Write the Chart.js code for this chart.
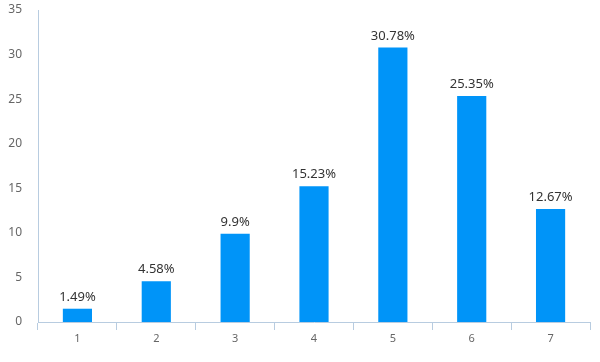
<!DOCTYPE html>
<html><head><meta charset="utf-8">
<script src="https://cdn.jsdelivr.net/npm/chart.js@4/dist/chart.umd.min.js"></script>
<style>html,body{margin:0;padding:0;background:#fff}#wrap{width:600px;height:362px}</style>
</head><body><div id="wrap"><canvas id="c" width="600" height="362"></canvas></div>
<script>
const categories = ['1','2','3','4','5','6','7'];
const values = [1.49, 4.58, 9.9, 15.23, 30.78, 25.35, 12.67];
const labels = ['1.49%','4.58%','9.9%','15.23%','30.78%','25.35%','12.67%'];

const labelPlugin = {
  id: 'barLabels',
  afterDatasetsDraw(chart) {
    const ctx = chart.ctx;
    const meta = chart.getDatasetMeta(0);
    ctx.save();
    ctx.font = '13px "Noto Sans", "DejaVu Sans", sans-serif';
    ctx.fillStyle = '#333';
    ctx.textAlign = 'center';
    ctx.textBaseline = 'bottom';
    meta.data.forEach((el, i) => {
      ctx.fillText(labels[i], el.x, el.y - 5);
    });
    ctx.restore();
  }
};

new Chart(document.getElementById('c'), {
  type: 'bar',
  data: { labels: categories, datasets: [{ data: values, backgroundColor: '#0094F8', categoryPercentage: 1, barPercentage: 0.37 }] },
  options: {
    responsive: false, animation: false,
    layout: { padding: { top: 10, right: 10, left: 0, bottom: 0 } },
    plugins: { legend: { display: false }, tooltip: { enabled: false } },
    scales: {
      x: {
        grid: { display: true, drawOnChartArea: false, drawTicks: true, tickLength: 8, color: '#B8CCE0', tickColor: '#B8CCE0', offset: true },
        border: { display: true, color: '#B8CCE0' },
        ticks: { color: '#666', font: { size: 11, family: '"Noto Sans", sans-serif' }, padding: 2 },
        afterFit(s) { s.height = 40; }
      },
      y: {
        min: 0, max: 35,
        grid: { display: false },
        border: { display: true, color: '#B8CCE0' },
        ticks: { stepSize: 5, color: '#666', font: { size: 12, family: '"Noto Sans", sans-serif' }, padding: 8 },
        afterFit(s) { s.width = 38; s.paddingTop = 0; s.paddingBottom = 0; }
      }
    }
  },
  plugins: [labelPlugin]
});
</script></body></html>
